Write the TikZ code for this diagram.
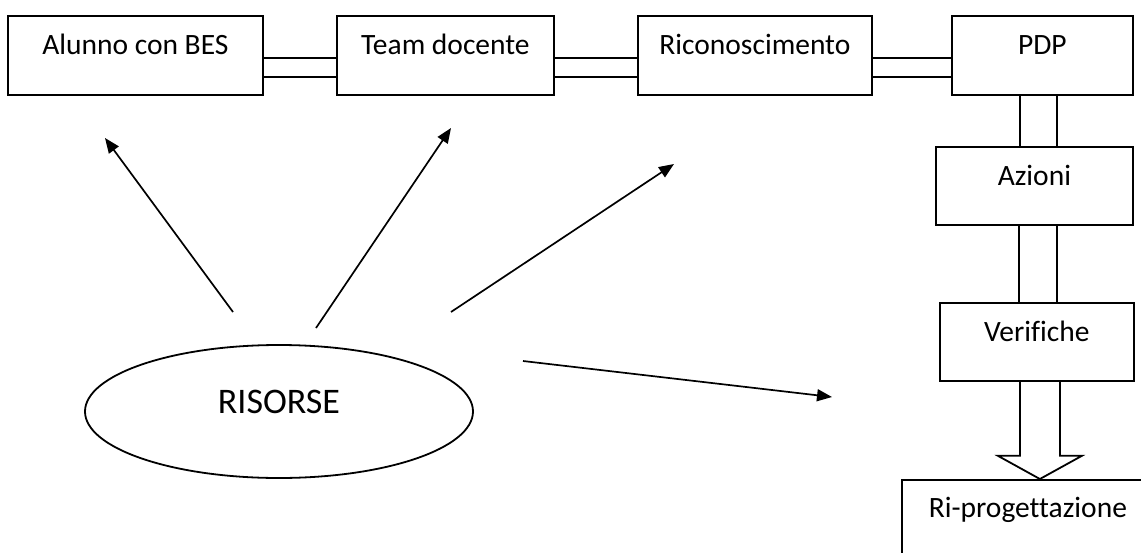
\documentclass[tikz,border=0pt]{standalone}
\usepackage{fontspec}
\setmainfont{Carlito}[Ligatures=CommonOff]
\usetikzlibrary{arrows.meta,calc,shapes.geometric}
\tikzset{
  stepbox/.style={draw, line width=1.8pt, rectangle, anchor=north west,
    inner sep=0pt, font=\fontsize{29.5pt}{34pt}\selectfont},
  toprow/.style={stepbox, minimum height=79pt, text height=39pt, text depth=40pt},
  siderow/.style={stepbox, minimum height=78pt, text height=39pt, text depth=39pt},
  link/.style={line width=1.8pt},
  ray/.style={line width=1.7pt, -{Triangle[length=15pt,width=12pt]}},
}
\begin{document}
\begin{tikzpicture}[x=1pt,y=-1pt]
\useasboundingbox (0,0) rectangle (1141,552);
% top row
\node[toprow, minimum width=255pt] (alunno) at (7,15) {Alunno con BES};
\node[toprow, minimum width=217pt] (team) at (336,15) {Team docente};
\node[toprow, minimum width=234pt] (ric) at (637,15) {Riconoscimento};
\node[toprow, minimum width=181pt] (pdp) at (951,15) {PDP};
% right column
\node[siderow, minimum width=197pt] (azioni) at (935,146) {Azioni};
\node[siderow, minimum width=194pt] (verif) at (939,302) {Verifiche};
\node[stepbox, minimum width=252pt, minimum height=90pt, text height=38pt, text depth=52pt] (ri) at (901,479) {Ri-progettazione};
% ellipse
\node[draw, ellipse, line width=1.8pt, minimum width=388pt, minimum height=133pt,
  inner sep=0pt, text height=23pt, text depth=20pt,
  font=\fontsize{36pt}{42pt}\selectfont] (ris) at (279,411.5) {RISORSE};

% double connectors, top row
\foreach \a/\b in {alunno/team, team/ric, ric/pdp}{
  \draw[link] ($(\a.east)+(0,2.5)$) -- ($(\b.west)+(0,2.5)$);
  \draw[link] ($(\a.east)+(0,21.5)$) -- ($(\b.west)+(0,21.5)$);
}
% vertical connectors
\draw[link] ($(pdp.south)+(-22.5,0)$) -- ($(azioni.north)+(-14.5,0)$);
\draw[link] ($(pdp.south)+(14.5,0)$) -- ($(azioni.north)+(22.5,0)$);
\draw[link] ($(azioni.south)+(-15.5,0)$) -- ($(verif.north)+(-18,0)$);
\draw[link] ($(azioni.south)+(22.5,0)$) -- ($(verif.north)+(20,0)$);
% block arrow
\draw[link, line join=miter] ($(verif.south)+(-17,0)$) -- ($(verif.south)+(-17,74)$)
  -- ($(verif.south)+(-39,74)$) -- ($(ri.north)+(12,0)$)
  -- ($(verif.south)+(45,74)$) -- ($(verif.south)+(23,74)$) -- ($(verif.south)+(23,0)$);

% rays from RISORSE
\coordinate (s1) at (233,312); \coordinate (t1) at (105,138);
\coordinate (s2) at (316,328); \coordinate (t2) at (451,128);
\coordinate (s3) at (451,312); \coordinate (t3) at (674,164);
\coordinate (s4) at (523,361); \coordinate (t4) at (832,397);
\draw[ray] (s1) -- (t1);
\draw[ray] (s2) -- (t2);
\draw[ray] (s3) -- (t3);
\draw[ray] (s4) -- (t4);
\end{tikzpicture}
\end{document}
